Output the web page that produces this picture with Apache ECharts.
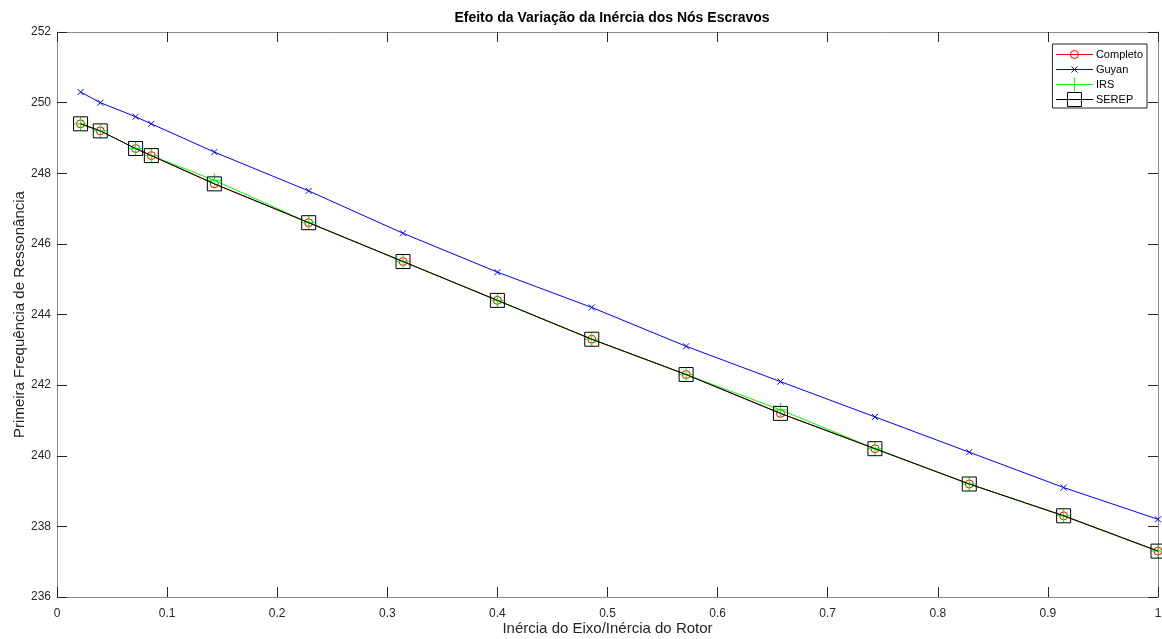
<!DOCTYPE html>
<html>
<head>
<meta charset="utf-8">
<script src="https://cdn.jsdelivr.net/npm/echarts@6/dist/echarts.min.js"></script>
<style>
  html, body { margin: 0; padding: 0; background: #fff; }
  #chart { width: 1162px; height: 639px; }
</style>
</head>
<body>
<div id="chart"></div>
<script>
// Inertia ratio (shaft / rotor) at each evaluated configuration
const inertiaRatio = [0.0214, 0.0393, 0.0714, 0.0857, 0.1429, 0.2286, 0.3143, 0.4, 0.4857, 0.5714, 0.6571, 0.7429, 0.8286, 0.9143, 1.0];

// First resonance frequency for each reduction method
const completo = [249.4, 249.2, 248.7, 248.5, 247.7, 246.6, 245.5, 244.4, 243.3, 242.3, 241.2, 240.2, 239.2, 238.3, 237.3];
const guyan    = [250.3, 250.0, 249.6, 249.4, 248.6, 247.5, 246.3, 245.2, 244.2, 243.1, 242.1, 241.1, 240.1, 239.1, 238.2];
const irs      = [249.4, 249.2, 248.7, 248.5, 247.8, 246.6, 245.5, 244.4, 243.3, 242.3, 241.3, 240.2, 239.2, 238.3, 237.3];
const serep    = [249.4, 249.2, 248.7, 248.5, 247.7, 246.6, 245.5, 244.4, 243.3, 242.3, 241.2, 240.2, 239.2, 238.3, 237.3];

const seriesNames = ['Completo', 'Guyan', 'IRS', 'SEREP'];
const seriesColors = ['#ff0000', '#0000ff', '#00ff00', '#000000'];

const pair = ys => inertiaRatio.map((x, i) => [x, ys[i]]);

const FONT = '"Liberation Sans", Arial, sans-serif';
const AXIS_COLOR = '#262626';
const BOX_COLOR = '#8a8a8a';

// Marker outlines share a 14-unit box so that chart and legend keep their relative sizes:
// circle 8, cross 6, plus 14, square 14.
const circlePath = 'path://M-3,-3M11,11M8,4A4,4,0,1,1,0,4A4,4,0,1,1,8,4Z';
const crossPath = 'path://M-4,-4M10,10M0,0L6,6M6,0L0,6';
const plusPath = 'path://M7,0L7,14M0,7L14,7';
const MARKER_SIZE = 14;

function lineSeries(name, ys, color, symbol, z) {
  return {
    name: name,
    type: 'line',
    data: pair(ys),
    symbol: symbol,
    symbolSize: MARKER_SIZE,
    showAllSymbol: true,
    z: z,
    lineStyle: { color: color, width: 1 },
    itemStyle: { color: 'rgba(0,0,0,0)', borderColor: color, borderWidth: 1 },
    emphasis: { disabled: true },
    animation: false
  };
}

const chart = echarts.init(document.getElementById('chart'), null, { renderer: 'canvas' });

const option = {
  backgroundColor: '#ffffff',
  animation: false,
  title: {
    text: 'Efeito da Variação da Inércia dos Nós Escravos',
    left: 607,
    top: 6,
    textAlign: 'center',
    textStyle: { fontFamily: FONT, fontSize: 14, fontWeight: 'bold', color: '#000' }
  },
  legend: {
    right: 15,
    top: 44,
    orient: 'vertical',
    itemWidth: 37,
    itemHeight: 17.5,
    itemGap: 0,
    padding: [3, 4, 1, 3],
    borderColor: AXIS_COLOR,
    borderWidth: 1,
    backgroundColor: '#fff',
    lineStyle: { width: 1 },
    itemStyle: { borderWidth: 1 },
    textStyle: { fontFamily: FONT, fontSize: 11, color: '#000', padding: [0, 0, 0, -2] },
    data: seriesNames.map((n, i) => ({
      name: n,
      lineStyle: { color: seriesColors[i], width: 1 },
      itemStyle: { color: 'rgba(0,0,0,0)', borderColor: seriesColors[i], borderWidth: 1 }
    }))
  },
  grid: { left: 57, right: 4, top: 32, bottom: 42, containLabel: false, outerBoundsMode: 'none' },
  xAxis: [{
    type: 'value',
    min: 0, max: 1, interval: 0.1,
    name: 'Inércia do Eixo/Inércia do Rotor',
    nameLocation: 'middle',
    nameGap: 24,
    nameMoveOverlap: false,
    nameTextStyle: { fontFamily: FONT, fontSize: 15, color: AXIS_COLOR },
    axisLine: { show: true, onZero: false, lineStyle: { color: BOX_COLOR } },
    axisTick: { show: true, inside: true, length: 10, lineStyle: { color: AXIS_COLOR } },
    axisLabel: { fontFamily: FONT, fontSize: 12, color: AXIS_COLOR, margin: 11,
      formatter: v => String(Math.round(v * 10) / 10) },
    splitLine: { show: false }
  }, {
    type: 'value',
    position: 'top',
    min: 0, max: 1, interval: 0.1,
    axisLine: { show: true, onZero: false, lineStyle: { color: BOX_COLOR } },
    axisTick: { show: true, inside: true, length: 10, lineStyle: { color: AXIS_COLOR } },
    axisLabel: { show: false },
    splitLine: { show: false }
  }],
  yAxis: [{
    type: 'value',
    min: 236, max: 252, interval: 2,
    name: 'Primeira Frequência de Ressonância',
    nameLocation: 'middle',
    nameGap: 30,
    nameMoveOverlap: false,
    nameTextStyle: { fontFamily: FONT, fontSize: 15, color: AXIS_COLOR },
    axisLine: { show: true, onZero: false, lineStyle: { color: BOX_COLOR } },
    axisTick: { show: true, inside: true, length: 10, lineStyle: { color: AXIS_COLOR } },
    axisLabel: { fontFamily: FONT, fontSize: 12, color: AXIS_COLOR, margin: 6 },
    splitLine: { show: false }
  }, {
    type: 'value',
    position: 'right',
    min: 236, max: 252, interval: 2,
    axisLine: { show: true, onZero: false, lineStyle: { color: BOX_COLOR } },
    axisTick: { show: true, inside: true, length: 10, lineStyle: { color: AXIS_COLOR } },
    axisLabel: { show: false },
    splitLine: { show: false }
  }],
  series: [
    lineSeries('Completo', completo, seriesColors[0], circlePath, 2),
    lineSeries('Guyan', guyan, seriesColors[1], crossPath, 3),
    lineSeries('IRS', irs, seriesColors[2], plusPath, 4),
    lineSeries('SEREP', serep, seriesColors[3], 'rect', 5)
  ]
};

chart.setOption(option);
</script>
</body>
</html>
